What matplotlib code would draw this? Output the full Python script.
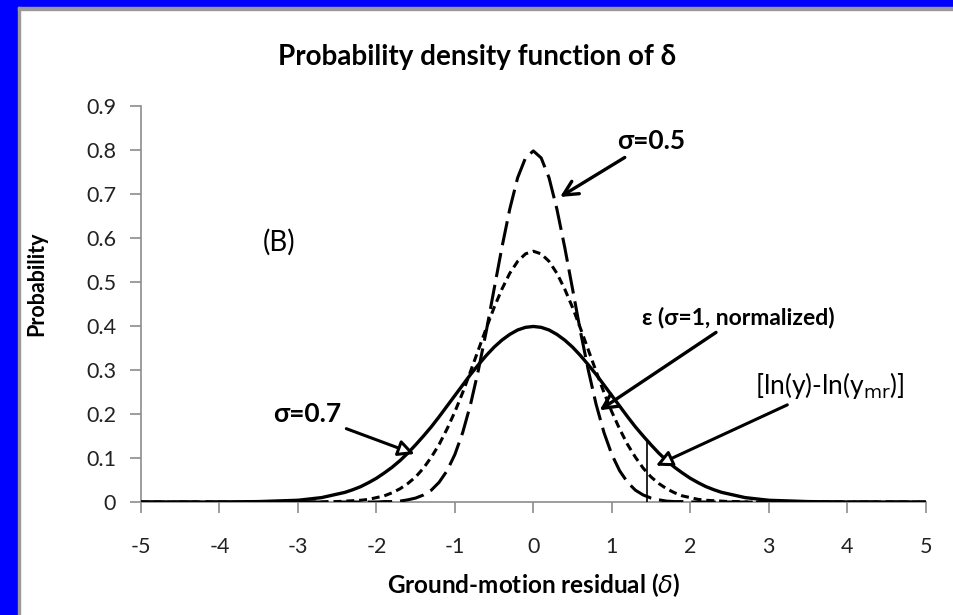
import matplotlib
matplotlib.use("Agg")
import matplotlib.pyplot as plt
from matplotlib.patches import Rectangle
import numpy as np

# x grid (0 .. 5), curves are symmetric about 0
x_half = [0.0, 0.1, 0.2, 0.3, 0.4, 0.5, 0.6, 0.7, 0.8, 0.9, 1.0, 1.1, 1.2, 1.3, 1.4, 1.5,
          1.6, 1.7, 1.8, 1.9, 2.0, 2.1, 2.2, 2.3, 2.4, 2.5, 2.6, 2.7, 2.8, 2.9, 3.0,
          3.5, 4.0, 5.0]
# sigma = 1 (normalized epsilon)
p_sig10 = [0.399, 0.397, 0.391, 0.381, 0.368, 0.352, 0.333, 0.312, 0.290, 0.266, 0.242,
           0.218, 0.194, 0.171, 0.150, 0.130, 0.111, 0.094, 0.079, 0.066, 0.054,
           0.044, 0.035, 0.028, 0.022, 0.018, 0.014, 0.010, 0.008, 0.006, 0.004,
           0.001, 0.000, 0.000]
# sigma = 0.7
p_sig07 = [0.570, 0.564, 0.547, 0.520, 0.484, 0.442, 0.395, 0.346, 0.297, 0.249, 0.205,
           0.166, 0.131, 0.102, 0.077, 0.057, 0.042, 0.030, 0.021, 0.014, 0.010,
           0.006, 0.004, 0.003, 0.002, 0.001, 0.001, 0.000, 0.000, 0.000, 0.000,
           0.000, 0.000, 0.000]
# sigma = 0.5
p_sig05 = [0.798, 0.782, 0.737, 0.666, 0.579, 0.484, 0.388, 0.300, 0.222, 0.158, 0.108,
           0.071, 0.045, 0.027, 0.016, 0.009, 0.005, 0.002, 0.001, 0.001, 0.000,
           0.000, 0.000, 0.000, 0.000, 0.000, 0.000, 0.000, 0.000, 0.000, 0.000,
           0.000, 0.000, 0.000]

obs_x = 1.45      # observed residual marker
obs_top = 0.14

x_ticks = [-5, -4, -3, -2, -1, 0, 1, 2, 3, 4, 5]
y_ticks = [0, 0.1, 0.2, 0.3, 0.4, 0.5, 0.6, 0.7, 0.8, 0.9]
y_ticklabels = ["0", "0.1", "0.2", "0.3", "0.4", "0.5", "0.6", "0.7", "0.8", "0.9"]


def mirror(xh, yh):
    xh = np.array(xh)
    yh = np.array(yh)
    return np.concatenate([-xh[::-1], xh[1:]]), np.concatenate([yh[::-1], yh[1:]])


plt.rcParams['font.family'] = ['Lato', 'DejaVu Sans']
plt.rcParams['axes.unicode_minus'] = False

fig = plt.figure(figsize=(9.54, 6.15), dpi=100)
fig.patch.set_facecolor('white')

# blue frame on the left/top
W, H = 954, 615
fig.patches.append(Rectangle((0, 0), 18 / W, 1, transform=fig.transFigure,
                             color='#0000ff', zorder=0))
fig.patches.append(Rectangle((0, 1 - 7 / H), 1, 7 / H, transform=fig.transFigure,
                             color='#0000ff', zorder=0))
fig.patches.append(Rectangle((18 / W, 0), 2.5 / W, 1 - 7 / H, transform=fig.transFigure,
                             color='#9a9a9a', zorder=0))
fig.patches.append(Rectangle((18 / W, 1 - 9.5 / H), 1, 2.5 / H, transform=fig.transFigure,
                             color='#9a9a9a', zorder=0))

ax = fig.add_axes([0.1478, 0.1837, 0.8225, 0.6439])

x, y = mirror(x_half, p_sig10)
ax.plot(x, y, color='black', lw=2.4, solid_capstyle='butt', zorder=3)
x, y = mirror(x_half, p_sig07)
ax.plot(x, y, color='black', lw=2.2, dashes=(2.6, 1.6), zorder=3)
x, y = mirror(x_half, p_sig05)
ax.plot(x, y, color='black', lw=2.2, dashes=(8, 2.6), zorder=3)

ax.plot([obs_x, obs_x], [0, obs_top], color='black', lw=1.2, zorder=3)

ax.set_xlim(-5, 5)
ax.set_ylim(0, 0.9)
ax.set_xticks(x_ticks)
ax.set_yticks(y_ticks)
ax.set_yticklabels(y_ticklabels)
ax.tick_params(axis='both', labelsize=15.5, colors='#8c8c8c', labelcolor='#222222',
               length=8, width=1.2, direction='out')
ax.tick_params(axis='x', pad=17)
ax.tick_params(axis='y', pad=10)
for s in ['top', 'right']:
    ax.spines[s].set_visible(False)
for s in ['left', 'bottom']:
    ax.spines[s].set_color('#8c8c8c')
    ax.spines[s].set_linewidth(1.2)

ax.set_xlabel("Ground-motion residual ($\\delta$)", fontsize=17.5, fontweight='bold')
ax.xaxis.set_label_coords(0.5, -0.175)
ax.set_ylabel("Probability", fontsize=15.5, fontweight='bold')
ax.yaxis.set_label_coords(-0.12, 0.55)

fig.text(0.5, 0.908, "Probability density function of δ", ha='center', va='center',
         fontsize=20, fontweight='bold')

ax.text(-3.45, 0.59, "(B)", fontsize=20, ha='left', va='center')

v_arrow = dict(arrowstyle='->', color='black', lw=2.4, mutation_scale=26)
tri_arrow = dict(arrowstyle='-|>', color='black', fc='white', lw=2.2, mutation_scale=24)
ax.annotate("σ=0.5", xy=(0.31, 0.69), xytext=(1.07, 0.82), fontsize=19,
            fontweight='bold', ha='left', va='center', arrowprops=v_arrow)
ax.annotate("ε (σ=1, normalized)", xy=(0.815, 0.205), xytext=(1.39, 0.42),
            fontsize=16.5, fontweight='bold', ha='left', va='center', arrowprops=v_arrow)
ax.annotate("[ln(y)-ln(y$_{\\rm mr}$)]", xy=(1.53, 0.08), xytext=(2.82, 0.265),
            fontsize=19, ha='left', va='center', arrowprops=tri_arrow)
ax.annotate("σ=0.7", xy=(-1.48, 0.107), xytext=(-3.32, 0.20), fontsize=19,
            fontweight='bold', ha='left', va='center', arrowprops=tri_arrow)

fig.savefig("out.png", dpi=100, facecolor=fig.get_facecolor())
